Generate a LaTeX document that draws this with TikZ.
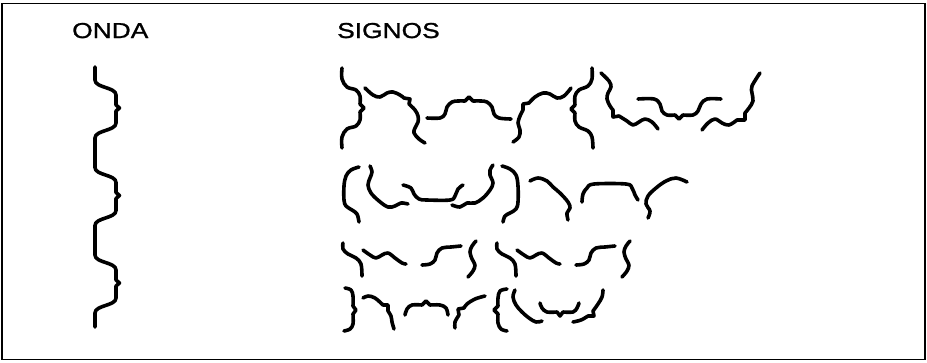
\documentclass[tikz,border=0pt]{standalone}
\usepackage{fontspec}
\newfontfamily\titulofont[FakeStretch=1.22,FakeBold=1.2]{Liberation Sans}

\begin{document}
\begin{tikzpicture}[x=1pt,y=-1pt,
  signo/.style={line width=3.6pt,line cap=round,line join=round,
    smooth,tension=.6},
  titulo/.style={font=\titulofont\fontsize{21.6}{26}\selectfont,
    inner sep=0pt,anchor=base west}
]
\useasboundingbox (0,0) rectangle (927,362);
\draw[line width=1.5pt] (2,3.5) rectangle (925,359.5);

\node[titulo] (onda) at (72,38) {ONDA};
\node[titulo] (signos) at (337,38) {SIGNOS};

% onda: three braces one under the other
\draw[signo] (95,67) foreach \k in {0,1,2} {
  -- (95,80+87.5*\k)
  .. controls (95,88+87.5*\k) and (116,87+87.5*\k) .. (116,95+87.5*\k)
  -- (116,105+87.5*\k) -- (119.5,108+87.5*\k) -- (116,111+87.5*\k)
  -- (116,123+87.5*\k)
  .. controls (116,131+87.5*\k) and (95,130+87.5*\k) .. (95,138+87.5*\k)
} -- (95,327);

% signos, row 1
\draw[signo] plot coordinates {(342,68) (342,79) (347,87) (356,90) (360,96) (360,104)}
  -- (364,108) -- plot coordinates {(360,112) (360,120) (356,126) (347,129) (342,137) (342,148)};
\draw[signo] plot coordinates {(365,88) (373,95) (380,97) (387,93) (393,92) (400,95) (404,98)}
  -- (410,99) -- plot coordinates {(409,104) (415,110) (418,116) (418,122) (415,128) (414,133) (419,139) (425,143)};
\draw[signo] plot coordinates {(427,118) (440,118) (445,114) (447,107) (452,102) (458,101) (465,101)}
  -- (469,97) -- plot coordinates {(473,101) (481,101) (487,102) (492,107) (494,114) (499,118) (511,119)};
\draw[signo] plot coordinates {(513,142) (519,137) (520,130) (518,123) (520,116) (523,110)}
  -- (523,104) -- plot coordinates {(529,103) (535,97) (543,93) (550,94) (557,98) (564,96) (571,88)};
\draw[signo] plot coordinates {(592,68) (592,79) (588,86) (579,90) (575,96) (575,105)}
  -- (571,109) -- plot coordinates {(575,113) (575,121) (579,127) (588,131) (592,137) (593,148)};
\draw[signo] plot coordinates {(601,73) (609,81) (611,87) (608,93) (607,99) (610,106) (613,110)}
  -- (613,117) -- plot coordinates {(619,116) (627,121) (633,125) (639,122) (645,119) (652,122) (658,129)};
\draw[signo] plot coordinates {(638,99) (654,99) (660,104) (662,111) (667,115) (675,115)}
  -- (679,119) -- plot coordinates {(683,115) (693,115) (698,111) (701,104) (707,99) (721,99)};
\draw[signo] plot coordinates {(702,130) (708,123) (715,119) (722,123) (729,125) (737,120)}
  -- (745,120) -- plot coordinates {(745,113) (749,108) (753,101) (752,93) (752,86) (760,73)};

% row 2
\draw[signo] plot coordinates {(359,167) (351,170) (346,176) (344,186) (344,200) (346,206) (352,210) (357,214) (359,222)};
\draw[signo] plot coordinates {(370,166) (372,172) (370,178) (368,185) (371,193) (379,201) (388,207) (395,206) (401,203) (408,204)};
\draw[signo] plot coordinates {(403,185) (411,188) (414,194) (419,199) (427,200) (450,200) (455,196) (458,189) (463,185)};
\draw[signo] plot coordinates {(452,205) (460,207) (467,203) (475,203) (483,198) (490,190) (493,183) (490,175) (490,170) (493,165)};
\draw[signo] plot coordinates {(502,166) (510,169) (516,175) (518,186) (518,202) (516,209) (510,213) (505,216) (503,222)};
\draw[signo] plot coordinates {(530,181) (538,178) (547,181) (553,187) (560,193) (568,202) (570,208) (567,213) (568,220)};
\draw[signo] plot coordinates {(582,202) (583,194) (587,188) (594,184) (626,184) (632,188) (635,195) (638,200)};
\draw[signo] plot coordinates {(648,218) (650,211) (646,204) (648,196) (656,188) (666,181) (676,178) (687,182)};

% row 3, the same group twice
\foreach \dx in {0,154} {
  \begin{scope}[xshift=\dx pt]
    \draw[signo] plot coordinates {(343,243) (343,249) (348,254) (356,258) (361,264) (362,276)};
    \draw[signo] plot coordinates {(363,250) (370,255) (376,258) (382,255) (388,253) (395,258) (402,263) (406,264)};
    \draw[signo] plot coordinates {(422,265) (430,264) (435,260) (437,253) (442,248) (451,247) (461,246)};
    \draw[signo] plot coordinates {(476,241) (472,246) (470,252) (472,259) (475,265) (473,271) (468,277)};
  \end{scope}
}

% row 4
\draw[signo] plot coordinates {(345,288) (351,290) (353,296) (353,306)}
  -- (356,310) -- plot coordinates {(353,314) (353,324) (350,329) (344,331)};
\draw[signo] plot coordinates {(363,298) (368,296) (375,298) (383,305)}
  -- (388,305) -- plot coordinates {(388,311) (391,316) (392,322) (394,329)};
\draw[signo] plot coordinates {(405,315) (407,309) (412,305) (422,305)}
  -- (426,301) -- plot coordinates {(430,305) (440,305) (446,308) (448,315)};
\draw[signo] plot coordinates {(455,328) (455,322) (459,315)}
  -- (458,309) -- plot coordinates {(464,308) (467,304) (475,299) (485,296)};
\draw[signo] plot coordinates {(507,289) (500,291) (498,298) (498,306)}
  -- (494,310) -- plot coordinates {(498,314) (498,323) (501,329) (507,331)};
\draw[signo] plot coordinates {(515,290) (513,297) (516,305) (522,312) (529,318) (536,322) (542,321)};
\draw[signo] plot coordinates {(540,303) (542,308) (547,312) (557,312)}
  -- (560,316) -- plot coordinates {(563,312) (573,312) (577,308) (579,303)};
\draw[signo] plot coordinates {(573,322) (581,320) (588,316)}
  -- (594,316) -- plot coordinates {(593,311) (598,304) (602,297) (603,290)};
\end{tikzpicture}
\end{document}
